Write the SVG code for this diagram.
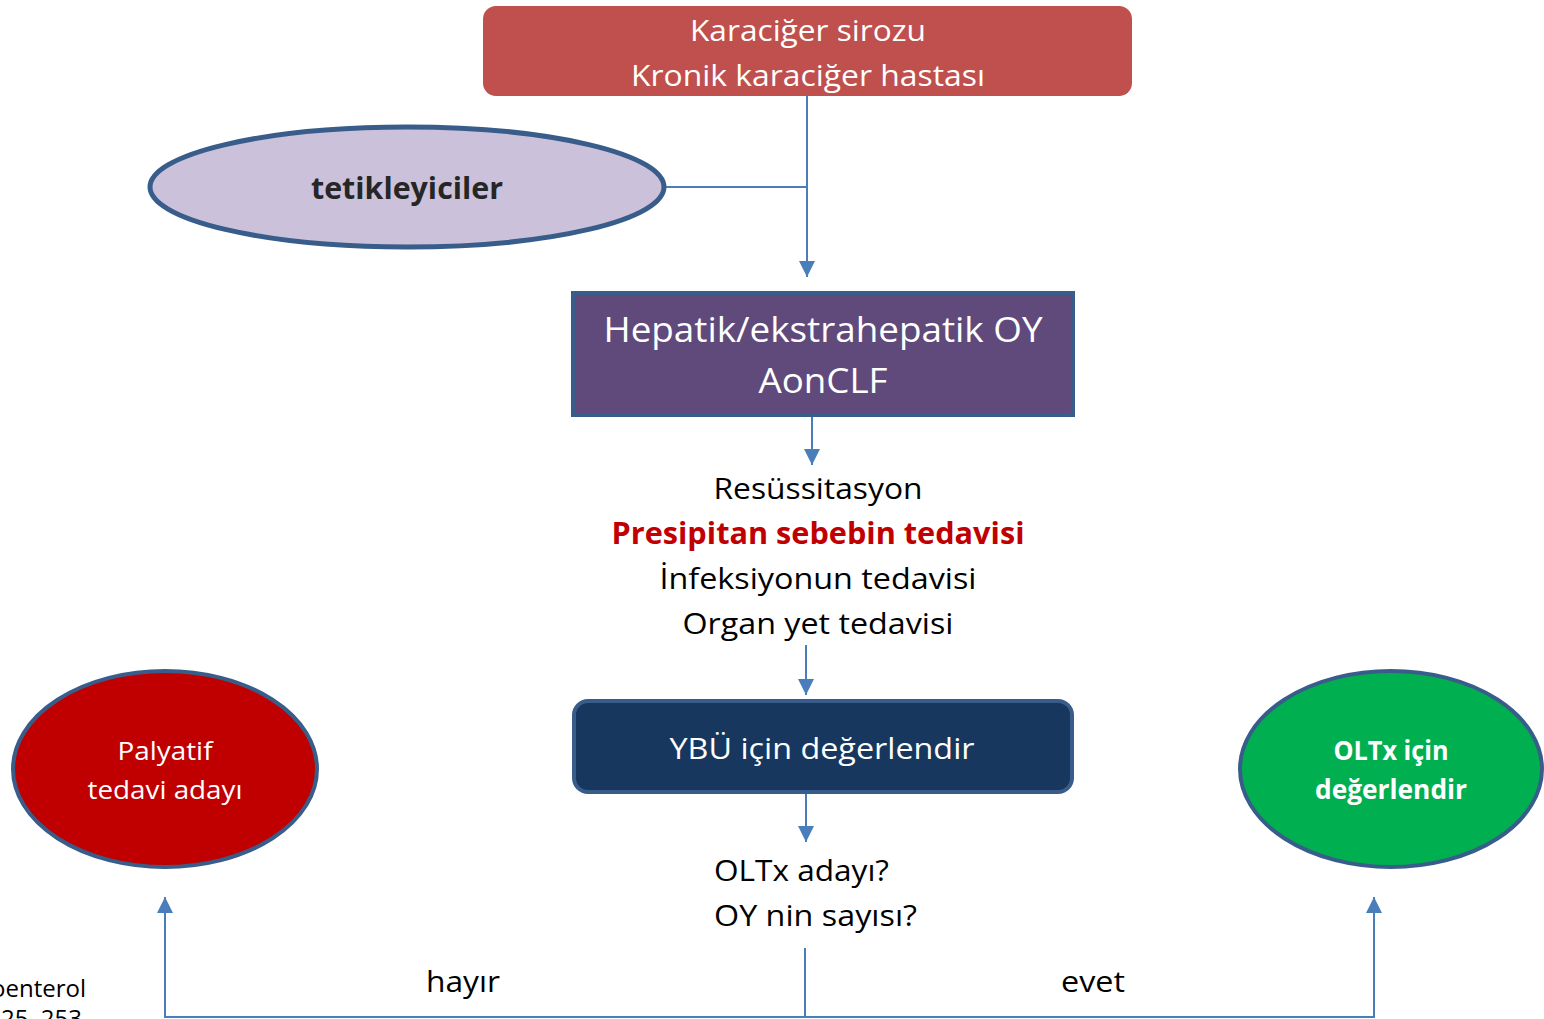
<svg xmlns="http://www.w3.org/2000/svg" width="1544" height="1019" viewBox="0 0 1544 1019">
<defs>
<style>
text{font-family:"Open Sans","Noto Sans","Liberation Sans",sans-serif;text-anchor:middle}
.w{fill:#FFFFFF}
.k{fill:#000000}
.b{font-weight:bold}
.c{fill:none;stroke:#4A7EBB;stroke-width:2}
</style>
<marker id="ah" viewBox="0 0 10 10" refX="10" refY="5" markerWidth="16" markerHeight="16" markerUnits="userSpaceOnUse" orient="auto">
<path d="M0,0 L10,5 L0,10 z" fill="#4A7EBB"/>
</marker>
</defs>
<rect width="1544" height="1019" fill="#FFFFFF"/>
<g id="connectors">
<path class="c" d="M807,96 V277" marker-end="url(#ah)"/>
<path class="c" d="M665,187 H807"/>
<path class="c" d="M812,416 V465" marker-end="url(#ah)"/>
<path class="c" d="M806,645 V695" marker-end="url(#ah)"/>
<path class="c" d="M806,794 V842" marker-end="url(#ah)"/>
<path class="c" d="M805,948 V1017 H165 V897" marker-end="url(#ah)"/>
<path class="c" d="M805,1017 H1374 V897" marker-end="url(#ah)"/>
</g>
<g id="node-sirozu">
<rect x="483" y="6" width="649" height="90" rx="13" fill="#C0504D"/>
<text class="w" x="808" y="41" font-size="30" textLength="236" lengthAdjust="spacingAndGlyphs">Karaciğer sirozu</text>
<text class="w" x="808" y="86" font-size="30" textLength="354" lengthAdjust="spacingAndGlyphs">Kronik karaciğer hastası</text>
</g>
<g id="node-tetikleyiciler">
<ellipse cx="407" cy="187" rx="257" ry="60" fill="#CCC1DA" stroke="#385D8A" stroke-width="5"/>
<text class="b" x="407" y="199" font-size="30" fill="#262626" textLength="192" lengthAdjust="spacingAndGlyphs">tetikleyiciler</text>
</g>
<g id="node-oy">
<rect x="573" y="293" width="500" height="122" fill="#604A7B" stroke="#385D8A" stroke-width="4"/>
<text class="w" x="823" y="342" font-size="34" textLength="439" lengthAdjust="spacingAndGlyphs">Hepatik/ekstrahepatik OY</text>
<text class="w" x="823" y="393" font-size="34" textLength="129" lengthAdjust="spacingAndGlyphs">AonCLF</text>
</g>
<g id="node-tedavi">
<text class="k" x="818" y="499" font-size="30" textLength="209" lengthAdjust="spacingAndGlyphs">Resüssitasyon</text>
<text class="b" x="818" y="544" font-size="30" fill="#C00000" textLength="413" lengthAdjust="spacingAndGlyphs">Presipitan sebebin tedavisi</text>
<text class="k" x="818" y="589" font-size="30" textLength="317" lengthAdjust="spacingAndGlyphs">İnfeksiyonun tedavisi</text>
<text class="k" x="818" y="634" font-size="30" textLength="271" lengthAdjust="spacingAndGlyphs">Organ yet tedavisi</text>
</g>
<g id="node-ybu">
<rect x="574" y="701" width="498" height="91" rx="14" fill="#17375E" stroke="#385D8A" stroke-width="4"/>
<text class="w" x="822" y="759" font-size="30" textLength="305" lengthAdjust="spacingAndGlyphs">YBÜ için değerlendir</text>
</g>
<g id="node-oltx-soru">
<text class="k" x="714" y="881" font-size="30" style="text-anchor:start" textLength="175" lengthAdjust="spacingAndGlyphs">OLTx adayı?</text>
<text class="k" x="714" y="926" font-size="30" style="text-anchor:start" textLength="203" lengthAdjust="spacingAndGlyphs">OY nin sayısı?</text>
</g>
<g id="node-palyatif">
<ellipse cx="165" cy="769" rx="152" ry="98" fill="#C00000" stroke="#385D8A" stroke-width="4"/>
<text class="w" x="165" y="760" font-size="26" textLength="95" lengthAdjust="spacingAndGlyphs">Palyatif</text>
<text class="w" x="165" y="799" font-size="26" textLength="155" lengthAdjust="spacingAndGlyphs">tedavi adayı</text>
</g>
<g id="node-oltx">
<ellipse cx="1391" cy="769" rx="151" ry="98" fill="#00B050" stroke="#385D8A" stroke-width="4"/>
<text class="w b" x="1391" y="760" font-size="26" textLength="115" lengthAdjust="spacingAndGlyphs">OLTx için</text>
<text class="w b" x="1391" y="799" font-size="26" textLength="152" lengthAdjust="spacingAndGlyphs">değerlendir</text>
</g>
<g id="labels">
<text class="k" x="463" y="992" font-size="30" textLength="74" lengthAdjust="spacingAndGlyphs">hayır</text>
<text class="k" x="1093" y="992" font-size="30" textLength="64" lengthAdjust="spacingAndGlyphs">evet</text>
<text class="k" x="86" y="997" font-size="24" style="text-anchor:end">Gastroenterol</text>
<text class="k" x="82" y="1027" font-size="24" style="text-anchor:end">2012; 25, 253</text>
</g>
</svg>
